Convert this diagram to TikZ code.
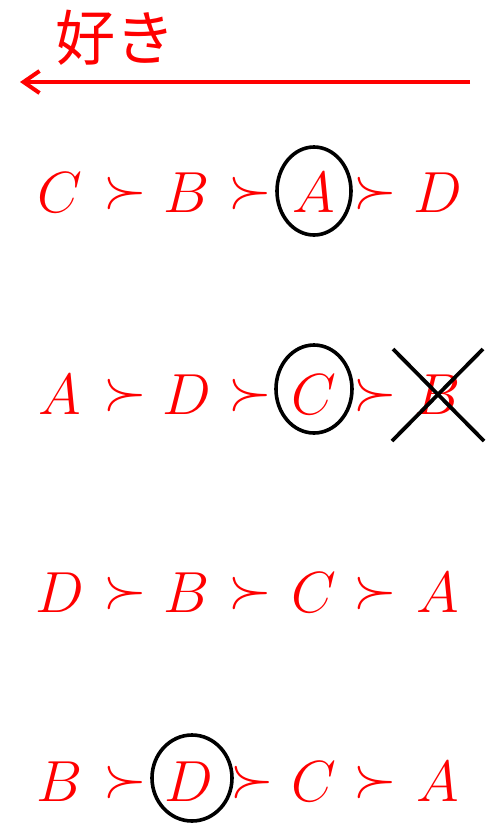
\RequirePackage{fix-cm}
\documentclass[tikz,border=0pt]{standalone}
\usepackage{fontspec}
\usepackage{amsmath}
\newfontfamily\jpfont{Noto Sans CJK JP}
\usetikzlibrary{arrows.meta}
\tikzset{
  letter/.style={text=red, font=\fontsize{29}{35}\selectfont, inner sep=0pt},
  prefsign/.style={text=red, font=\fontsize{28}{33}\selectfont, inner sep=0pt},
  ring/.style={draw=black, line width=1.8pt},
  cross/.style={draw=black, line width=1.9pt},
  likearrow/.style={draw=red, line width=2pt, -{Straight Barb[length=8pt,width=11pt]}}
}
\begin{document}
\begin{tikzpicture}[x=0.5pt,y=-0.5pt]
\useasboundingbox (0,0) rectangle (496,826);

% preference direction
\node[text=red, inner sep=0pt, font=\jpfont\fontsize{30}{36}\selectfont] (like) at (115,38) {好き};
\coordinate (arrowstart) at (470,82);
\coordinate (arrowend) at (20,82);
\draw[likearrow] (arrowstart) -- (arrowend);

% row 1
\node[letter] (r1a) at (60,193) {$C$};
\node[prefsign] (r1s1) at (125,193) {$\succ$};
\node[letter] (r1b) at (187,193) {$B$};
\node[prefsign] (r1s2) at (250,193) {$\succ$};
\node[letter] (r1c) at (314,193) {$A$};
\node[prefsign] (r1s3) at (375,193) {$\succ$};
\node[letter] (r1d) at (438,193) {$D$};
\draw[ring] (r1c) ++(0,-2) ellipse [x radius=37, y radius=44];

% row 2
\node[letter] (r2a) at (60,395) {$A$};
\node[prefsign] (r2s1) at (125,395) {$\succ$};
\node[letter] (r2b) at (187,395) {$D$};
\node[prefsign] (r2s2) at (250,395) {$\succ$};
\node[letter] (r2c) at (314,395) {$C$};
\node[prefsign] (r2s3) at (375,395) {$\succ$};
\node[letter] (r2d) at (438,395) {$B$};
\draw[ring] (r2c) ++(0,-6) ellipse [x radius=38, y radius=44];
\draw[cross] (r2d) ++(-45,-46) -- ++(91,92);
\draw[cross] (r2d) ++(45,-46) -- ++(-91,92);

% row 3
\node[letter] (r3a) at (60,593) {$D$};
\node[prefsign] (r3s1) at (125,593) {$\succ$};
\node[letter] (r3b) at (187,593) {$B$};
\node[prefsign] (r3s2) at (250,593) {$\succ$};
\node[letter] (r3c) at (314,593) {$C$};
\node[prefsign] (r3s3) at (375,593) {$\succ$};
\node[letter] (r3d) at (438,593) {$A$};

% row 4
\node[letter] (r4a) at (60,782) {$B$};
\node[prefsign] (r4s1) at (125,782) {$\succ$};
\node[letter] (r4b) at (189,782) {$D$};
\node[prefsign] (r4s2) at (252,782) {$\succ$};
\node[letter] (r4c) at (314,782) {$C$};
\node[prefsign] (r4s3) at (375,782) {$\succ$};
\node[letter] (r4d) at (438,782) {$A$};
\draw[ring] (r4b) ++(3,-4) ellipse [x radius=40, y radius=43];
\end{tikzpicture}
\end{document}
